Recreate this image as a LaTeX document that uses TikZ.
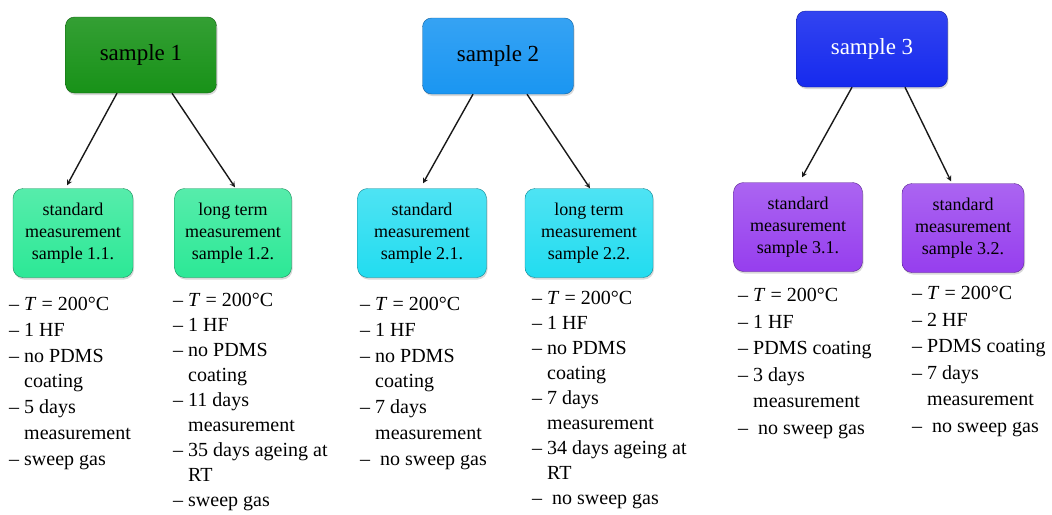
\documentclass[tikz,border=0pt]{standalone}
\usepackage{fontspec}
\setmainfont{Liberation Serif}
\usetikzlibrary{shadows}

\definecolor{grn}{RGB}{24,146,24}
\definecolor{azu}{RGB}{26,150,242}
\definecolor{blu}{RGB}{22,42,238}
\definecolor{mint}{RGB}{44,232,150}
\definecolor{cyn}{RGB}{34,220,240}
\definecolor{vio}{RGB}{150,62,238}

\tikzstyle{sample}=[draw, rounded corners=9pt, minimum width=151pt, minimum height=76pt, inner sep=0pt, font=\fontsize{23}{27}\selectfont, drop shadow={opacity=0.3, shadow xshift=1pt, shadow yshift=-2pt}]
\tikzstyle{sub}=[draw, rounded corners=10pt, minimum height=89pt, inner sep=0pt, align=center, font=\fontsize{18}{22}\selectfont, drop shadow={opacity=0.3, shadow xshift=1pt, shadow yshift=-2pt}]
\tikzstyle{list}=[anchor=north west, align=left, inner sep=0pt, font=\fontsize{20}{25.75}\selectfont]
\tikzstyle{edge}=[draw, line width=1.4pt, ->, >=stealth, black!90]
\newcommand{\cont}{\phantom{– }}
\newcommand{\temp}{– \textit{T} = 200°C}

\begin{document}
\begin{tikzpicture}[x=1pt, y=-1pt]
    \useasboundingbox (0,0) rectangle (1052,514);

    % samples
    \foreach \pos/\name/\col/\fg/\txt in {
                            {(141,55)/s1/grn/black/sample 1},
                            {(498,56)/s2/azu/black/sample 2},
                            {(872,49)/s3/blu/white/sample 3}}
        \node[sample, top color=\col!88!white, bottom color=\col, draw=\col!65!black, text=\fg] (\name) at \pos {\txt};

    % measurements
    \foreach \pos/\name/\col/\w/\txt in {
                            {(73,233)/c11/mint/120/standard\\measurement\\sample 1.1.},
                            {(233,233)/c12/mint/117/long term\\measurement\\sample 1.2.},
                            {(422,233)/c21/cyn/129/standard\\measurement\\sample 2.1.},
                            {(589,233)/c22/cyn/128/long term\\measurement\\sample 2.2.},
                            {(798,227)/c31/vio/129/standard\\measurement\\sample 3.1.},
                            {(963,228)/c32/vio/122/standard\\measurement\\sample 3.2.}}
        \node[sub, minimum width=\w pt, top color=\col!80!white, bottom color=\col, draw=\col!60!black] (\name) at \pos {\txt};

    % Connect samples with measurements
    \draw[edge] ([xshift=-24pt]s1.south) -- ([xshift=-6pt,yshift=3pt]c11.north);
    \draw[edge] ([xshift=31pt]s1.south) -- ([xshift=2pt,yshift=1pt]c12.north);
    \draw[edge] ([xshift=-25pt]s2.south) -- ([xshift=1pt,yshift=5pt]c21.north);
    \draw[edge] ([xshift=29pt]s2.south) -- ([xshift=1pt]c22.north);
    \draw[edge] ([xshift=-20pt]s3.south) -- ([xshift=4pt,yshift=5pt]c31.north);
    \draw[edge] ([xshift=33pt]s3.south) -- ([xshift=-12pt,yshift=2pt]c32.north);

    % conditions
    \node[list] (l11) at (9,297) {\temp\\– 1 HF\\– no PDMS\\\cont coating\\– 5 days\\\cont measurement\\– sweep gas};
    \node[list, font=\fontsize{20}{25}\selectfont] (l12) at (173,293) {\temp\\– 1 HF\\– no PDMS\\\cont coating\\– 11 days\\\cont measurement\\– 35 days ageing at\\\cont RT\\– sweep gas};
    \node[list] (l21) at (360,297) {\temp\\– 1 HF\\– no PDMS\\\cont coating\\– 7 days\\\cont measurement\\–\ \ no sweep gas};
    \node[list, font=\fontsize{20}{25}\selectfont] (l22) at (532,291) {\temp\\– 1 HF\\– no PDMS\\\cont coating\\– 7 days\\\cont measurement\\– 34 days ageing at\\\cont RT\\–\ \ no sweep gas};
    \node[list, font=\fontsize{20}{26.5}\selectfont] (l31) at (738,288) {\temp\\– 1 HF\\– PDMS coating\\– 3 days\\\cont measurement\\–\ \ no sweep gas};
    \node[list, font=\fontsize{20}{26.5}\selectfont] (l32) at (912,286) {\temp\\– 2 HF\\– PDMS coating\\– 7 days\\\cont measurement\\–\ \ no sweep gas};

\end{tikzpicture}
\end{document}
